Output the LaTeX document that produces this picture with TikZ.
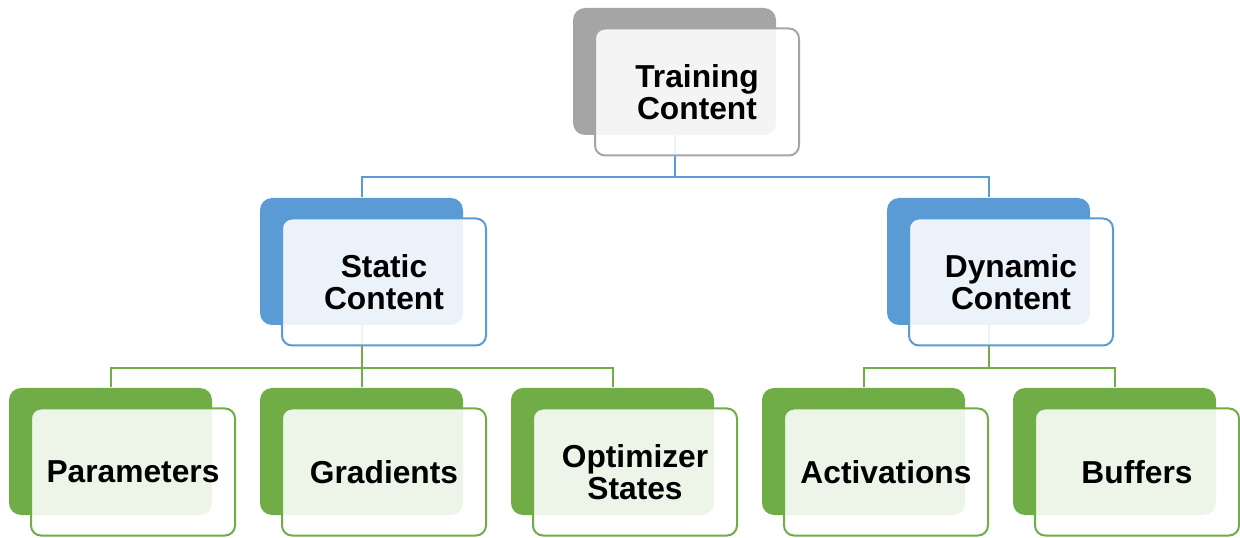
\documentclass[tikz,border=0pt]{standalone}
\usepackage{fontspec}
\setmainfont{Liberation Sans}
\definecolor{grayback}{RGB}{165,165,165}
\definecolor{blueback}{RGB}{91,155,213}
\definecolor{greenback}{RGB}{112,173,71}
\tikzset{every picture/.style={line width=0.75pt},
	backbox/.style={rounded corners=9pt, minimum width=152.25pt, minimum height=95.25pt, inner sep=0pt, fill=#1},
	frontbox/.style={rounded corners=7.5pt, minimum width=153pt, minimum height=95.25pt, inner sep=0pt, draw=#1, line width=1.5pt, fill=white, fill opacity=0.88, text opacity=1, align=center, font=\fontsize{23.8}{24}\selectfont\bfseries},
	link/.style={draw=#1, line width=1.5pt}}

\begin{document}
\begin{tikzpicture}[x=0.75pt,y=0.75pt,yscale=-1,xscale=1]
	\useasboundingbox (0,0) rectangle (1240,538);

	%Back boxes
	\node [backbox=grayback] (train-b) at (674.5,71.5) {};
	\node [backbox=blueback] (static-b) at (361.5,261.5) {};
	\node [backbox=blueback] (dynamic-b) at (988.5,261.5) {};
	\node [backbox=greenback] (param-b) at (110.5,451.5) {};
	\node [backbox=greenback] (grad-b) at (361.5,451.5) {};
	\node [backbox=greenback] (optim-b) at (612.5,451.5) {};
	\node [backbox=greenback] (activ-b) at (863.5,451.5) {};
	\node [backbox=greenback] (buffer-b) at (1114.5,451.5) {};

	%Connectors, upper level
	\coordinate (topbus) at (0,177);
	\draw [link=blueback] (train-b.south) -- (train-b.south |- topbus);
	\draw [link=blueback] (static-b.north) |- (topbus -| dynamic-b.north) -- (dynamic-b.north);
	%Connectors, lower level
	\coordinate (lowbus) at (0,368);
	\draw [link=greenback] (static-b.south) -- (static-b.south |- lowbus);
	\draw [link=greenback] (param-b.north) |- (lowbus -| optim-b.north) -- (optim-b.north);
	\draw [link=greenback] (grad-b.north) -- (grad-b.north |- lowbus);
	\draw [link=greenback] (dynamic-b.south) -- (dynamic-b.south |- lowbus);
	\draw [link=greenback] (activ-b.north) |- (lowbus -| buffer-b.north) -- (buffer-b.north);

	%Front boxes
	\node [frontbox=grayback] (train) at (697,92) {Training\\Content};
	\node [frontbox=blueback] (static) at (384,282) {Static\\Content};
	\node [frontbox=blueback] (dynamic) at (1011,282) {Dynamic\\Content};
	\node [frontbox=greenback] (param) at (133,472) {Parameters};
	\node [frontbox=greenback] (grad) at (384,472) {Gradients};
	\node [frontbox=greenback] (optim) at (635,472) {Optimizer\\States};
	\node [frontbox=greenback] (activ) at (886,472) {Activations};
	\node [frontbox=greenback] (buffer) at (1137,472) {Buffers};

\end{tikzpicture}
\end{document}
